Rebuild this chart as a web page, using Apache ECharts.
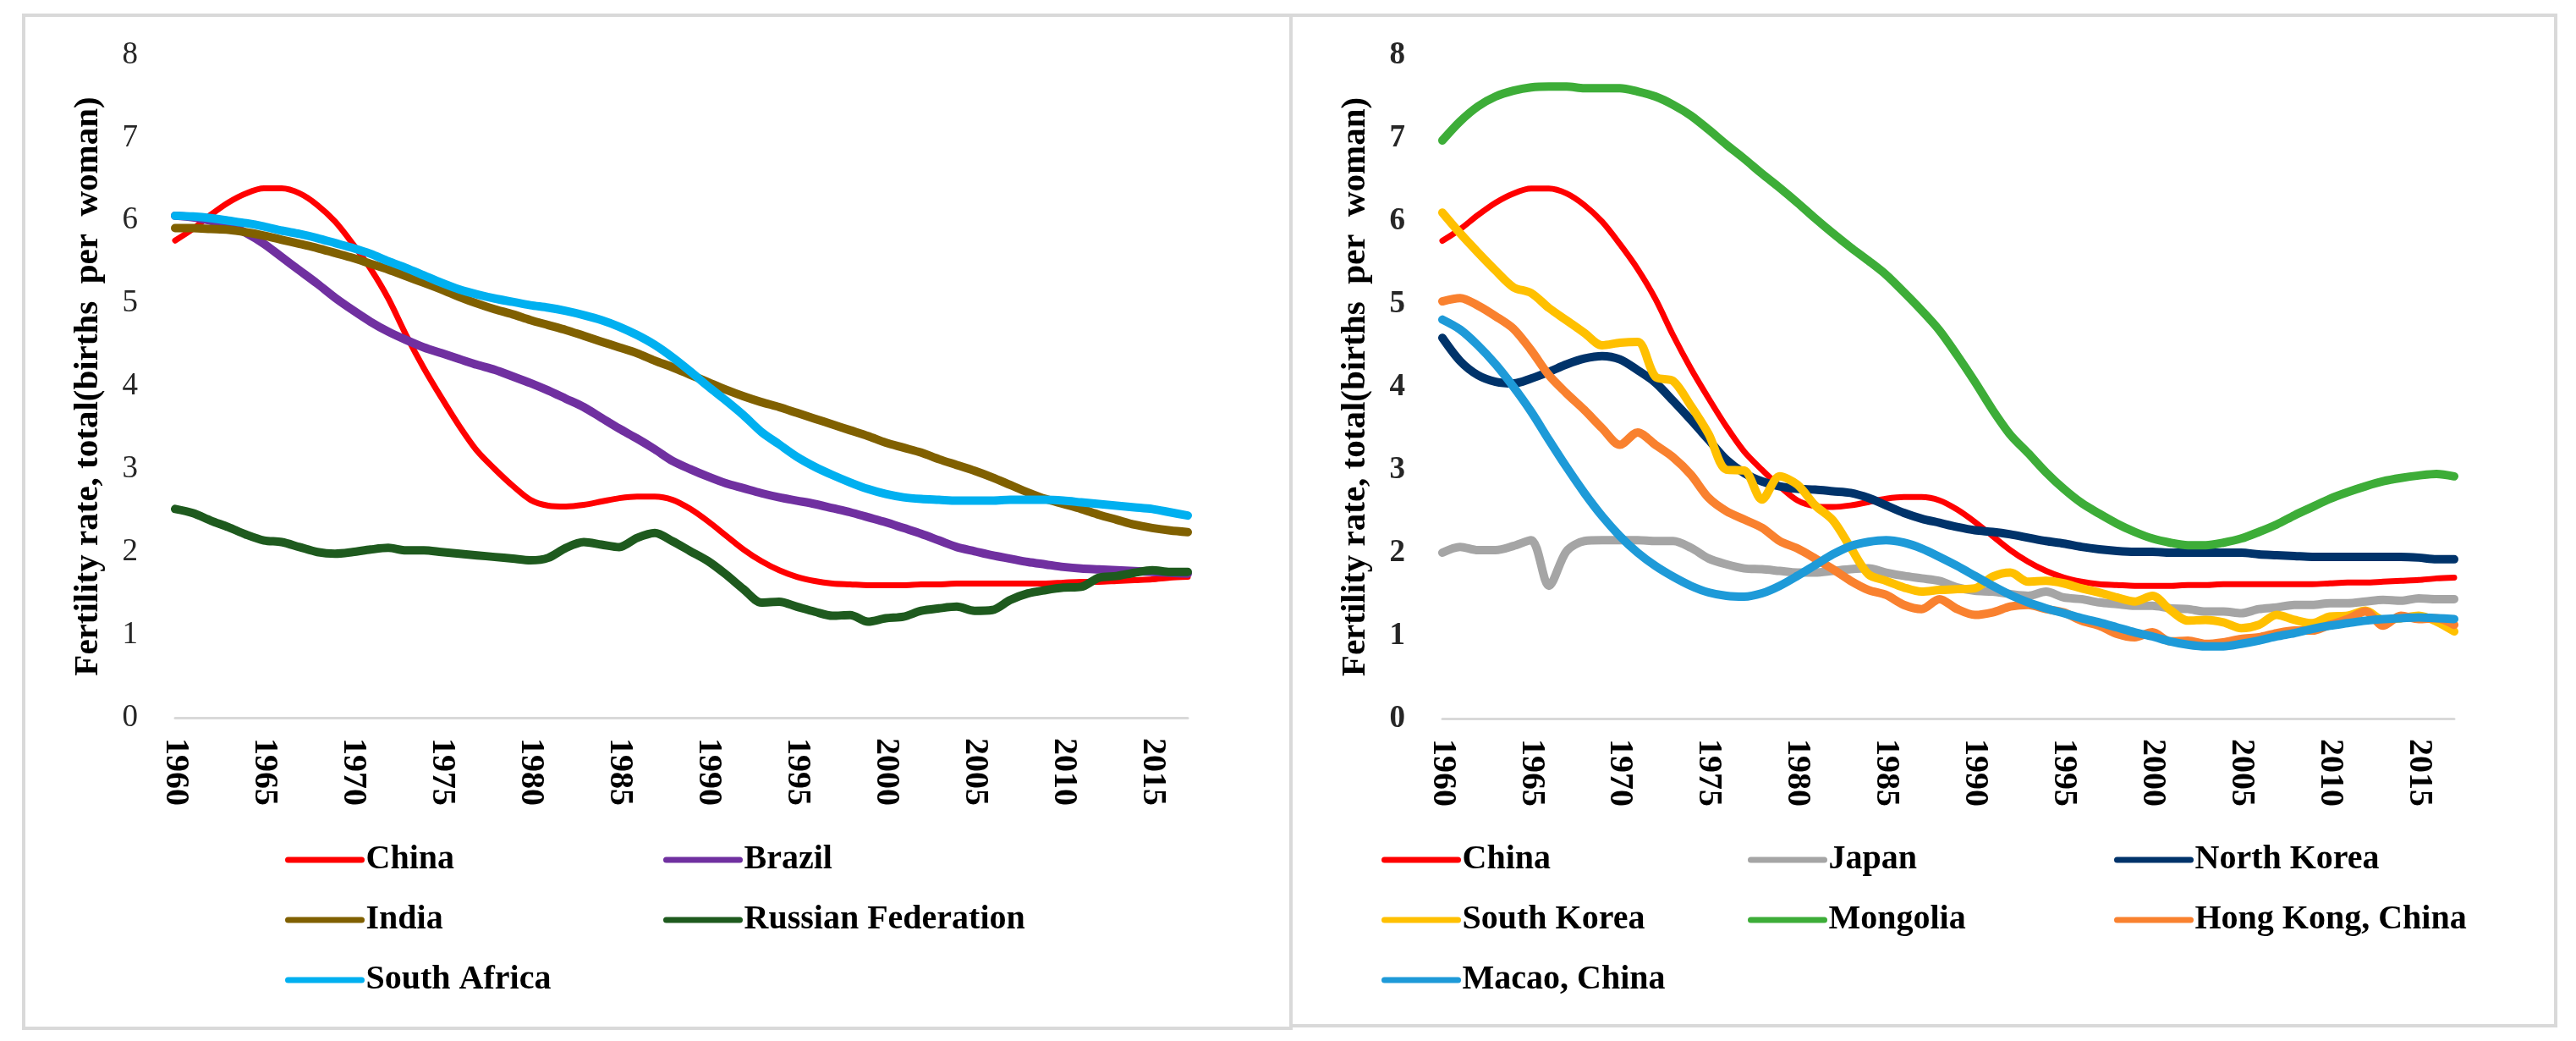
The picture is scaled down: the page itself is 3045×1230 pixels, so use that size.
<!DOCTYPE html>
<html>
<head>
<meta charset="utf-8">
<script src="https://cdn.jsdelivr.net/npm/echarts@6/dist/echarts.min.js"></script>
<style>
html, body { margin: 0; padding: 0; background: #fff; }
#main { width: 3045px; height: 1230px; }
</style>
</head>
<body>
<div id="main"></div>
<script>
// years 1960 - 2017
var years = [];
for (var y = 1960; y <= 2017; y++) years.push(String(y));

var china = [5.76,5.90,6.07,6.22,6.33,6.39,6.39,6.33,6.19,5.99,
	5.72,5.42,5.06,4.62,4.22,3.86,3.52,3.22,3.00,2.80,
	2.63,2.56,2.55,2.57,2.61,2.65,2.67,2.67,2.63,2.52,
	2.37,2.20,2.03,1.89,1.78,1.70,1.65,1.62,1.61,1.60,
	1.60,1.60,1.61,1.61,1.62,1.62,1.62,1.62,1.62,1.62,
	1.63,1.64,1.64,1.65,1.66,1.67,1.69,1.70];
var brazil = [6.06,6.04,6.00,5.95,5.85,5.72,5.56,5.40,5.24,5.07,
	4.92,4.78,4.66,4.56,4.47,4.40,4.33,4.26,4.20,4.12,
	4.04,3.95,3.85,3.75,3.62,3.49,3.37,3.24,3.10,3.00,
	2.91,2.83,2.77,2.71,2.66,2.62,2.58,2.53,2.48,2.42,
	2.36,2.29,2.22,2.14,2.06,2.01,1.96,1.92,1.88,1.85,
	1.82,1.80,1.79,1.78,1.77,1.76,1.75,1.74];
var india = [5.91,5.91,5.90,5.89,5.86,5.82,5.77,5.72,5.67,5.61,
	5.55,5.48,5.41,5.33,5.25,5.17,5.08,5.00,4.93,4.87,
	4.80,4.74,4.68,4.61,4.54,4.47,4.40,4.31,4.23,4.14,
	4.05,3.96,3.88,3.81,3.75,3.68,3.61,3.54,3.47,3.40,
	3.32,3.26,3.20,3.12,3.05,2.98,2.90,2.81,2.72,2.64,
	2.58,2.52,2.45,2.39,2.33,2.29,2.26,2.24];
var russia = [2.52,2.47,2.38,2.30,2.21,2.14,2.12,2.06,2.00,1.98,
	2.00,2.03,2.05,2.02,2.02,2.00,1.98,1.96,1.94,1.92,
	1.90,1.93,2.05,2.12,2.09,2.06,2.17,2.23,2.13,2.01,
	1.89,1.73,1.55,1.39,1.40,1.34,1.28,1.23,1.24,1.16,
	1.20,1.22,1.29,1.32,1.34,1.29,1.30,1.42,1.50,1.54,
	1.57,1.58,1.69,1.71,1.75,1.78,1.76,1.76];
var southAfrica = [6.06,6.05,6.03,6.00,5.97,5.93,5.88,5.84,5.79,5.73,
	5.67,5.60,5.51,5.43,5.34,5.25,5.17,5.11,5.06,5.02,
	4.98,4.95,4.91,4.86,4.80,4.72,4.62,4.50,4.35,4.18,
	4.00,3.83,3.65,3.45,3.30,3.15,3.03,2.93,2.84,2.76,
	2.70,2.66,2.64,2.63,2.62,2.62,2.62,2.63,2.63,2.63,
	2.62,2.60,2.58,2.56,2.54,2.52,2.48,2.44];

var japan = [2.00,2.07,2.03,2.03,2.08,2.15,1.60,2.02,2.14,2.15,
	2.15,2.15,2.14,2.14,2.06,1.93,1.86,1.81,1.80,1.78,
	1.76,1.76,1.78,1.80,1.81,1.76,1.72,1.69,1.66,1.58,
	1.54,1.53,1.50,1.48,1.53,1.46,1.44,1.40,1.38,1.36,
	1.36,1.33,1.32,1.29,1.29,1.27,1.32,1.34,1.37,1.37,
	1.39,1.39,1.41,1.43,1.42,1.45,1.44,1.44];
var northKorea = [4.59,4.31,4.14,4.06,4.04,4.10,4.18,4.27,4.34,4.37,
	4.33,4.20,4.05,3.83,3.60,3.36,3.12,2.96,2.86,2.80,
	2.77,2.76,2.74,2.72,2.66,2.57,2.48,2.41,2.36,2.31,
	2.27,2.25,2.22,2.18,2.14,2.11,2.07,2.04,2.02,2.01,
	2.01,2.00,2.00,2.00,2.00,2.00,1.98,1.97,1.96,1.95,
	1.95,1.95,1.95,1.95,1.95,1.94,1.92,1.92];
var southKorea = [6.10,5.85,5.62,5.40,5.20,5.13,4.95,4.80,4.65,4.50,
	4.53,4.54,4.12,4.07,3.77,3.43,3.00,2.99,2.64,2.92,
	2.82,2.57,2.39,2.06,1.74,1.66,1.58,1.53,1.55,1.56,
	1.57,1.71,1.76,1.65,1.66,1.63,1.57,1.52,1.46,1.41,
	1.48,1.31,1.18,1.19,1.16,1.09,1.13,1.25,1.19,1.15,
	1.23,1.24,1.30,1.19,1.21,1.24,1.17,1.05];
var mongolia = [6.97,7.20,7.38,7.50,7.57,7.61,7.62,7.62,7.60,7.60,
	7.60,7.56,7.50,7.40,7.27,7.10,6.92,6.75,6.57,6.40,
	6.22,6.03,5.85,5.68,5.52,5.35,5.14,4.92,4.68,4.38,
	4.06,3.72,3.42,3.20,2.97,2.77,2.60,2.47,2.35,2.25,
	2.17,2.12,2.09,2.09,2.12,2.17,2.25,2.34,2.45,2.55,
	2.65,2.73,2.80,2.86,2.90,2.93,2.95,2.92];
var hongKong = [5.03,5.07,4.98,4.85,4.70,4.44,4.14,3.92,3.72,3.50,
	3.30,3.45,3.30,3.15,2.94,2.66,2.50,2.40,2.30,2.14,
	2.05,1.93,1.80,1.66,1.55,1.49,1.37,1.32,1.44,1.32,
	1.25,1.28,1.35,1.37,1.32,1.28,1.18,1.12,1.02,0.98,
	1.04,0.93,0.94,0.90,0.92,0.96,0.98,1.03,1.06,1.06,
	1.13,1.20,1.29,1.12,1.24,1.20,1.21,1.13];
var macao = [4.81,4.69,4.50,4.27,4.00,3.70,3.36,3.03,2.72,2.44,
	2.20,2.00,1.84,1.71,1.60,1.52,1.48,1.47,1.51,1.60,
	1.72,1.85,1.98,2.08,2.13,2.15,2.12,2.05,1.95,1.84,
	1.72,1.60,1.49,1.40,1.33,1.27,1.21,1.16,1.10,1.04,
	0.99,0.93,0.89,0.87,0.87,0.90,0.94,0.99,1.03,1.08,
	1.12,1.15,1.18,1.20,1.21,1.22,1.21,1.20];

var yTicks = [0, 1, 2, 3, 4, 5, 6, 7, 8];

var leftSeries = [
	{ name: "China", data: china, color: "#FF0000", width: 7 },
	{ name: "Brazil", data: brazil, color: "#7030A0", width: 10 },
	{ name: "India", data: india, color: "#806000", width: 10 },
	{ name: "Russian Federation", data: russia, color: "#1E5A1E", width: 10 },
	{ name: "South Africa", data: southAfrica, color: "#00B0F0", width: 10 }
];
// trailing space keeps the right-hand China apart from the left one in the legends
var rightSeries = [
	{ name: "China ", data: china, color: "#FF0000", width: 7 },
	{ name: "Japan", data: japan, color: "#A5A5A5", width: 10 },
	{ name: "North Korea", data: northKorea, color: "#00336A", width: 10 },
	{ name: "South Korea", data: southKorea, color: "#FFC000", width: 10 },
	{ name: "Mongolia", data: mongolia, color: "#3DAD38", width: 10 },
	{ name: "Hong Kong, China", data: hongKong, color: "#F9812F", width: 10 },
	{ name: "Macao, China", data: macao, color: "#1E9AD8", width: 10 }
];

var font = "Liberation Serif";

function makeX(idx) {
	return {
		type: "category",
		gridIndex: idx,
		data: years,
		boundaryGap: false,
		axisLine: { lineStyle: { color: "#D9D9D9", width: 3 } },
		axisTick: { show: false },
		axisLabel: {
			interval: 4,
			rotate: -90,
			margin: 24,
			fontFamily: font,
			fontWeight: "bold",
			fontSize: 40,
			color: "#000"
		}
	};
}

function makeY(idx, bold) {
	return {
		type: "value",
		gridIndex: idx,
		min: yTicks[0],
		max: yTicks[yTicks.length - 1],
		interval: 1,
		splitLine: { show: false },
		axisLine: { show: false },
		axisTick: { show: false },
		axisLabel: {
			margin: 44,
			fontFamily: font,
			fontWeight: bold ? "bold" : "normal",
			fontSize: 37,
			color: "#262626"
		},
		name: "Fertility rate, total(births  per  woman)",
		nameLocation: "middle",
		nameGap: 82,
		nameTextStyle: {
			fontFamily: font,
			fontWeight: "bold",
			fontSize: 41,
			color: "#000"
		}
	};
}

function makeSeries(list, idx) {
	var out = [];
	for (var i = 0; i < list.length; i++) {
		out.push({
			name: list[i].name,
			type: "line",
			xAxisIndex: idx,
			yAxisIndex: idx,
			data: list[i].data,
			symbol: "none",
			smooth: 0.3,
			color: list[i].color,
			lineStyle: { color: list[i].color, width: list[i].width, cap: "round", join: "round" }
		});
	}
	return out;
}

// one legend per entry, laid out on a grid of columns and rows
function makeLegends(list, left0, colStep, cols, top0, rowStep) {
	var out = [];
	for (var i = 0; i < list.length; i++) {
		out.push({
			data: [list[i].name],
			left: left0 + (i % cols) * colStep,
			top: top0 + Math.floor(i / cols) * rowStep,
			padding: 0,
			itemWidth: 87,
			itemHeight: 20,
			itemStyle: { opacity: 0 },
			lineStyle: { width: 7, cap: "round" },
			textStyle: {
				fontFamily: font,
				fontWeight: "bold",
				fontSize: 40,
				color: "#000"
			},
			selectedMode: false
		});
	}
	return out;
}

var chart = echarts.init(document.getElementById("main"));
var option = {
	backgroundColor: "#fff",
	animation: false,
	graphic: [
		{ type: "rect", shape: { x: 28, y: 18, width: 1498, height: 1197 },
			style: { fill: "none", stroke: "#D9D9D9", lineWidth: 4 }, silent: true },
		{ type: "rect", shape: { x: 1526, y: 18, width: 1495, height: 1194 },
			style: { fill: "none", stroke: "#D9D9D9", lineWidth: 4 }, silent: true }
	],
	grid: [
		{ left: 207, top: 65, width: 1197, height: 783 },
		{ left: 1705, top: 65, width: 1196, height: 784 }
	],
	xAxis: [makeX(0), makeX(1)],
	yAxis: [makeY(0, false), makeY(1, true)],
	legend: makeLegends(leftSeries, 337, 447, 2, 996, 71)
		.concat(makeLegends(rightSeries, 1633, 433, 3, 996, 71)),
	series: makeSeries(leftSeries, 0).concat(makeSeries(rightSeries, 1))
};
chart.setOption(option);
</script>
</body>
</html>
